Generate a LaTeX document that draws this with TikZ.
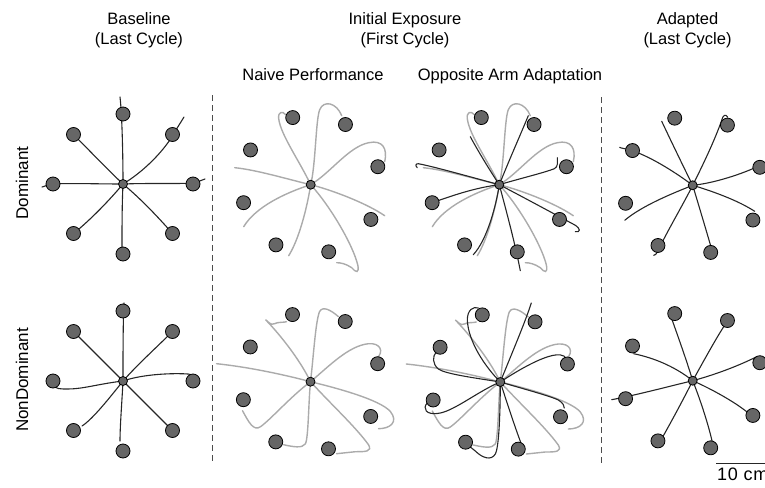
\documentclass[tikz,border=0pt]{standalone}
\usepackage{fontspec}
\setmainfont{Liberation Sans}
\begin{document}
\begin{tikzpicture}[x=1pt,y=-1pt,
  blk/.style={draw=black!85,line width=1.1pt,line cap=round},
  gry/.style={draw=black!33,line width=1.4pt,line cap=round},
  tgt/.style={fill=black!60,draw=black,line width=0.8pt},
  sep/.style={draw=black!70,line width=0.9pt,dash pattern=on 6pt off 4pt},
  ttl/.style={font=\fontsize{16.5}{18}\selectfont,anchor=base,inner sep=0pt},
  side/.style={font=\fontsize{17}{19}\selectfont,rotate=90,inner sep=0pt}]
\useasboundingbox (0,0) rectangle (765,487);

% target rings: upright layout and rotated layout
\newcommand\tgtsStd{%
  \foreach \a in {0,45,...,315} \filldraw[tgt] ({70*cos(\a)},{70*sin(\a)}) circle (7pt);
  \filldraw[tgt] (0,0) circle (4.5pt);}
\newcommand\tgtsRot{%
  \foreach \a in {15,60,...,330} \filldraw[tgt] ({69.5*cos(\a)},{-69.5*sin(\a)}) circle (7pt);
  \filldraw[tgt] (0,0) circle (4.5pt);}

% first-cycle paths of the untrained arm (dominant row)
\newcommand\naiveDom{%
  \draw[gry] (0,0) .. controls (-12,-25) and (-30,-50) .. (-32,-66) .. controls (-33,-73) and (-28,-74) .. (-25,-70);
  \draw[gry] (0,0) .. controls (5,-20) and (5,-65) .. (9,-75) .. controls (13,-85) and (26,-82) .. (31,-69);
  \draw[gry] (0,0) .. controls (20,-12) and (38,-38) .. (58,-42) .. controls (72,-45) and (77,-36) .. (74,-23);
  \draw[gry] (0,0) .. controls (20,5) and (55,18) .. (74,31);
  \draw[gry] (0,0) .. controls (20,22) and (42,60) .. (47,80) .. controls (49,89) and (45,88) .. (41,83) .. controls (35,79) and (30,78) .. (26,78);
  \draw[gry] (0,0) .. controls (-4,25) and (-12,55) .. (-22,71);
  \draw[gry] (0,0) .. controls (-25,8) and (-55,22) .. (-67,42);
  \draw[gry] (0,0) .. controls (-25,-6) and (-55,-15) .. (-76,-17);}
% first-cycle paths of the untrained arm (non-dominant row)
\newcommand\naiveNon{%
  \draw[gry] (0,0) .. controls (-12,-25) and (-35,-52) .. (-45,-62) .. controls (-42,-60) and (-40,-56) .. (-36,-58) .. controls (-32,-60) and (-27,-59) .. (-24,-60);
  \draw[gry] (0,0) .. controls (3,-25) and (5,-60) .. (9,-70) .. controls (12,-76) and (20,-72) .. (28,-65);
  \draw[gry] (0,0) .. controls (18,-15) and (38,-36) .. (58,-38) .. controls (70,-39) and (74,-30) .. (66,-23);
  \draw[gry] (0,0) .. controls (25,6) and (70,18) .. (80,30) .. controls (88,40) and (80,47) .. (68,47);
  \draw[gry] (0,0) .. controls (20,22) and (45,45) .. (58,63) .. controls (62,70) and (55,70) .. (45,70) -- (26,72);
  \draw[gry] (0,0) .. controls (-2,20) and (-2,55) .. (-5,62) .. controls (-8,67) and (-18,65) .. (-27,63);
  \draw[gry] (0,0) .. controls (-20,15) and (-40,38) .. (-50,45) .. controls (-57,50) and (-62,40) .. (-68,29);
  \draw[gry] (0,0) .. controls (-30,-8) and (-65,-15) .. (-94,-18);}

% column headings
\node[ttl] (h1a) at (139,25) {Baseline};
\node[ttl] (h1b) at (139,45) {(Last Cycle)};
\node[ttl] (h2a) at (405,25) {Initial Exposure};
\node[ttl] (h2b) at (405,45) {(First Cycle)};
\node[ttl] (h3a) at (687.5,25) {Adapted};
\node[ttl] (h3b) at (687.5,45) {(Last Cycle)};
\node[ttl] (s1) at (313,80) {Naive Performance};
\node[ttl] (s2) at (510,80) {Opposite Arm Adaptation};

% row labels
\node[side] (r1) at (22,183) {Dominant};
\node[side] (r2) at (22,380) {NonDominant};

% separators
\draw[sep] (212,95) -- (212,463);
\draw[sep] (601.5,97) -- (601.5,463);

% ---- baseline, dominant
\begin{scope}[shift={(123,184)}]
  \draw[blk] (0,0) .. controls (0,-30) and (-1,-70) .. (-3,-87);
  \draw[blk] (0,0) .. controls (20,-12) and (40,-32) .. (50,-49) .. controls (54,-56) and (58,-62) .. (61,-67);
  \draw[blk] (0,0) .. controls (25,-1) and (60,0) .. (70,-1) .. controls (75,-2) and (79,-4) .. (82,-5);
  \draw[blk] (0,0) .. controls (18,15) and (35,33) .. (49.5,49.5);
  \draw[blk] (0,0) .. controls (-1,20) and (-1,45) .. (-1,63);
  \draw[blk] (0,0) .. controls (-15,18) and (-35,38) .. (-49.5,49.5);
  \draw[blk] (0,0) .. controls (-25,0) and (-55,-1) .. (-70,0) .. controls (-75,1) and (-78,2) .. (-81,3);
  \draw[blk] (0,0) .. controls (-15,-14) and (-35,-35) .. (-49.5,-49.5);
  \tgtsStd
\end{scope}

% ---- baseline, non-dominant
\begin{scope}[shift={(123,381)}]
  \draw[blk] (0,0) .. controls (0,-25) and (0,-60) .. (1,-78);
  \draw[blk] (0,0) .. controls (15,-17) and (35,-35) .. (49.5,-49.5);
  \draw[blk] (0,0) .. controls (20,-7) and (50,-8) .. (65,-7) .. controls (69,-7) and (70,-4) .. (70,-1);
  \draw[blk] (0,0) -- (49.5,49.5);
  \draw[blk] (0,0) .. controls (-1,20) and (-3,45) .. (-3,60);
  \draw[blk] (0,0) .. controls (-12,15) and (-30,38) .. (-41,45);
  \draw[blk] (0,0) .. controls (-25,3) and (-40,8) .. (-55,8) .. controls (-63,8) and (-68,8) .. (-69,4);
  \draw[blk] (0,0) -- (-49.5,-49.5);
  \tgtsStd
\end{scope}

% ---- naive, dominant
\begin{scope}[shift={(310.7,184.7)}]
  \naiveDom
  \tgtsRot
\end{scope}

% ---- naive, non-dominant
\begin{scope}[shift={(310.5,381.7)}]
  \naiveNon
  \tgtsRot
\end{scope}

% ---- opposite arm adaptation, dominant
\begin{scope}[shift={(499.3,184.7)}]
  \naiveDom
  \draw[blk] (0,0) .. controls (-10,-15) and (-22,-35) .. (-29,-48);
  \draw[blk] (0,0) .. controls (10,-25) and (22,-52) .. (29,-69);
  \draw[blk] (0,0) .. controls (20,-6) and (45,-12) .. (55,-16) .. controls (59,-18) and (58,-22) .. (58,-27);
  \draw[blk] (0,0) .. controls (25,13) and (60,32) .. (75,40) .. controls (82,44) and (81,48) .. (76,47);
  \draw[blk] (0,0) .. controls (8,30) and (16,60) .. (21,86);
  \draw[blk] (0,0) .. controls (-3,20) and (-12,55) .. (-26,70);
  \draw[blk] (0,0) .. controls (-25,3) and (-50,12) .. (-67,18);
  \draw[blk] (0,0) .. controls (-30,-8) and (-65,-18) .. (-81,-21) .. controls (-84,-21) and (-84,-19) .. (-82,-17);
  \tgtsRot
\end{scope}

% ---- opposite arm adaptation, non-dominant
\begin{scope}[shift={(500.3,382)}]
  \naiveNon
  \draw[blk] (0,0) .. controls (-15,-15) and (-32,-40) .. (-33,-62) .. controls (-33,-72) and (-27,-76) .. (-22,-74);
  \draw[blk] (0,0) .. controls (10,-25) and (25,-60) .. (31,-79);
  \draw[blk] (0,0) .. controls (15,-10) and (40,-25) .. (55,-27) .. controls (63,-28) and (66,-25) .. (66,-22);
  \draw[blk] (0,0) .. controls (20,6) and (50,14) .. (58,18) .. controls (63,21) and (64,24) .. (64,26);
  \draw[blk] (0,0) .. controls (8,25) and (18,55) .. (23,67) .. controls (25,72) and (20,74) .. (17,73);
  \draw[blk] (0,0) .. controls (0,25) and (-1,65) .. (-5,72) .. controls (-9,79) and (-18,76) .. (-25,69) -- (-30,65);
  \draw[blk] (0,0) .. controls (-20,8) and (-45,28) .. (-60,31) .. controls (-75,34) and (-78,26) .. (-73,21);
  \draw[blk] (0,0) .. controls (-25,-4) and (-55,-8) .. (-62,-13) .. controls (-68,-18) and (-68,-26) .. (-64,-30);
  \tgtsRot
\end{scope}

% ---- adapted, dominant
\begin{scope}[shift={(692.7,185.3)}]
  \draw[blk] (0,0) .. controls (-10,-20) and (-22,-45) .. (-31,-64);
  \draw[blk] (0,0) .. controls (10,-20) and (22,-45) .. (29,-65) .. controls (30,-70) and (33,-72) .. (35,-68);
  \draw[blk] (0,0) .. controls (20,-2) and (45,-10) .. (61,-17);
  \draw[blk] (0,0) .. controls (20,6) and (45,15) .. (62,26);
  \draw[blk] (0,0) .. controls (6,20) and (15,50) .. (21,71);
  \draw[blk] (0,0) .. controls (-10,20) and (-25,45) .. (-35,66) .. controls (-36,69) and (-38,70) .. (-39,70);
  \draw[blk] (0,0) .. controls (-20,8) and (-50,20) .. (-68,35);
  \draw[blk] (0,0) .. controls (-20,-15) and (-45,-30) .. (-62,-35) .. controls (-68,-37) and (-72,-37) .. (-73,-38);
  \tgtsRot
\end{scope}

% ---- adapted, non-dominant
\begin{scope}[shift={(692.7,380.7)}]
  \draw[blk] (0,0) .. controls (-6,-20) and (-15,-45) .. (-21,-62);
  \draw[blk] (0,0) .. controls (10,-18) and (22,-40) .. (31,-54);
  \draw[blk] (0,0) .. controls (15,-4) and (40,-12) .. (64,-24);
  \draw[blk] (0,0) .. controls (18,8) and (40,20) .. (54,31);
  \draw[blk] (0,0) .. controls (8,20) and (16,45) .. (20,63);
  \draw[blk] (0,0) .. controls (-10,20) and (-22,42) .. (-31,58);
  \draw[blk] (0,0) .. controls (-25,6) and (-55,14) .. (-81,19);
  \draw[blk] (0,0) .. controls (-15,-12) and (-35,-22) .. (-59,-27);
  \tgtsRot
\end{scope}

% scale bar
\coordinate (sb0) at (716,463);
\coordinate (sb1) at (772,463);
\draw[black!85,line width=1pt] (sb0) -- (sb1);
\node[font=\fontsize{18}{20}\selectfont\addfontfeature{LetterSpace=4},anchor=base west,inner sep=0pt] (sbl) at (717,480) {10 cm};
\end{tikzpicture}
\end{document}
